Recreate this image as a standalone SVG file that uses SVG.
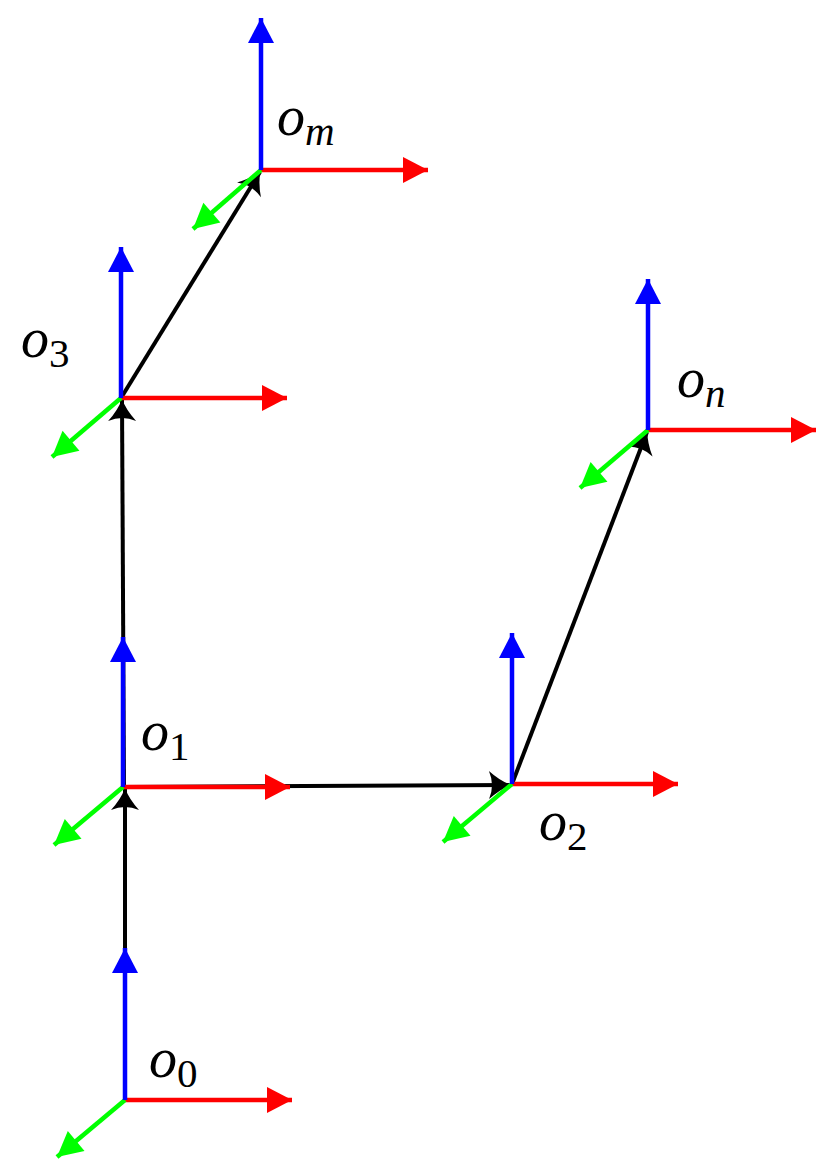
<svg xmlns="http://www.w3.org/2000/svg" width="835" height="1168" viewBox="0 0 835 1168">
<style>
.k{stroke:#000;stroke-width:4;fill:none}
.x{stroke:#f00;stroke-width:4.5;fill:none}
.y{stroke:#0f0;stroke-width:4.5;fill:none}
.z{stroke:#00f;stroke-width:4.5;fill:none}
</style>
<defs>
<marker id="ak" markerUnits="userSpaceOnUse" markerWidth="30" markerHeight="30" viewBox="-24 -15 28 30" refX="0" refY="0" orient="auto">
<path d="M1,0 Q-10,-4 -21,-14 Q-15,0 -21,14 Q-10,4 1,0 Z" fill="#000"/>
</marker>
<marker id="ar" markerUnits="userSpaceOnUse" markerWidth="30" markerHeight="30" viewBox="-26 -15 30 30" refX="0" refY="0" orient="auto">
<path d="M0,0 L-25,-13 L-25,13 Z" fill="#f00"/>
</marker>
<marker id="ag" markerUnits="userSpaceOnUse" markerWidth="30" markerHeight="30" viewBox="-26 -15 30 30" refX="0" refY="0" orient="auto">
<path d="M0,0 L-25,-13 L-25,13 Z" fill="#0f0"/>
</marker>
<marker id="ab" markerUnits="userSpaceOnUse" markerWidth="30" markerHeight="30" viewBox="-26 -15 30 30" refX="0" refY="0" orient="auto">
<path d="M0,0 L-25,-13 L-25,13 Z" fill="#00f"/>
</marker>
</defs>
<rect width="835" height="1168" fill="#fff"/>
<g id="connectors">
<line class="k" x1="125" y1="1100" x2="125" y2="789" marker-end="url(#ak)"/>
<line class="k" x1="124" y1="787" x2="122" y2="400" marker-end="url(#ak)"/>
<line class="k" x1="121" y1="398" x2="260" y2="172" marker-end="url(#ak)"/>
<line class="k" x1="123" y1="787" x2="510" y2="785" marker-end="url(#ak)"/>
<line class="k" x1="512" y1="784" x2="647" y2="432" marker-end="url(#ak)"/>
</g>
<g id="o0">
<line class="x" x1="125" y1="1100" x2="292" y2="1100" marker-end="url(#ar)"/>
<line class="y" x1="125" y1="1100" x2="57" y2="1157" marker-end="url(#ag)"/>
<line class="z" x1="125" y1="1100" x2="125" y2="948" marker-end="url(#ab)"/>
<text x="149" y="1077" font-family="Liberation Serif" font-style="italic" font-size="56">o<tspan font-style="normal" font-size="41" dy="10">0</tspan></text>
</g>
<g id="o1">
<line class="x" x1="123" y1="787" x2="290" y2="787" marker-end="url(#ar)"/>
<line class="y" x1="123" y1="787" x2="54" y2="845" marker-end="url(#ag)"/>
<line class="z" x1="123" y1="787" x2="123" y2="637" marker-end="url(#ab)"/>
<text x="141" y="750" font-family="Liberation Serif" font-style="italic" font-size="56">o<tspan font-style="normal" font-size="41" dy="10">1</tspan></text>
</g>
<g id="o2">
<line class="x" x1="512" y1="784" x2="678" y2="784" marker-end="url(#ar)"/>
<line class="y" x1="512" y1="784" x2="443" y2="842" marker-end="url(#ag)"/>
<line class="z" x1="512" y1="784" x2="512" y2="633" marker-end="url(#ab)"/>
<text x="539" y="840" font-family="Liberation Serif" font-style="italic" font-size="56">o<tspan font-style="normal" font-size="41" dy="10">2</tspan></text>
</g>
<g id="o3">
<line class="x" x1="121" y1="398" x2="287" y2="398" marker-end="url(#ar)"/>
<line class="y" x1="121" y1="398" x2="52" y2="457" marker-end="url(#ag)"/>
<line class="z" x1="121" y1="398" x2="121" y2="247" marker-end="url(#ab)"/>
<text x="21" y="357" font-family="Liberation Serif" font-style="italic" font-size="56">o<tspan font-style="normal" font-size="41" dy="10">3</tspan></text>
</g>
<g id="om">
<line class="x" x1="261" y1="170" x2="428" y2="170" marker-end="url(#ar)"/>
<line class="y" x1="261" y1="170" x2="193" y2="229" marker-end="url(#ag)"/>
<line class="z" x1="261" y1="170" x2="261" y2="18" marker-end="url(#ab)"/>
<text x="277" y="135" font-family="Liberation Serif" font-style="italic" font-size="56">o<tspan font-size="41" dy="10">m</tspan></text>
</g>
<g id="on">
<line class="x" x1="648" y1="430" x2="816" y2="430" marker-end="url(#ar)"/>
<line class="y" x1="648" y1="430" x2="580" y2="488" marker-end="url(#ag)"/>
<line class="z" x1="648" y1="430" x2="648" y2="279" marker-end="url(#ab)"/>
<text x="677" y="397" font-family="Liberation Serif" font-style="italic" font-size="56">o<tspan font-size="41" dy="10">n</tspan></text>
</g>
</svg>
